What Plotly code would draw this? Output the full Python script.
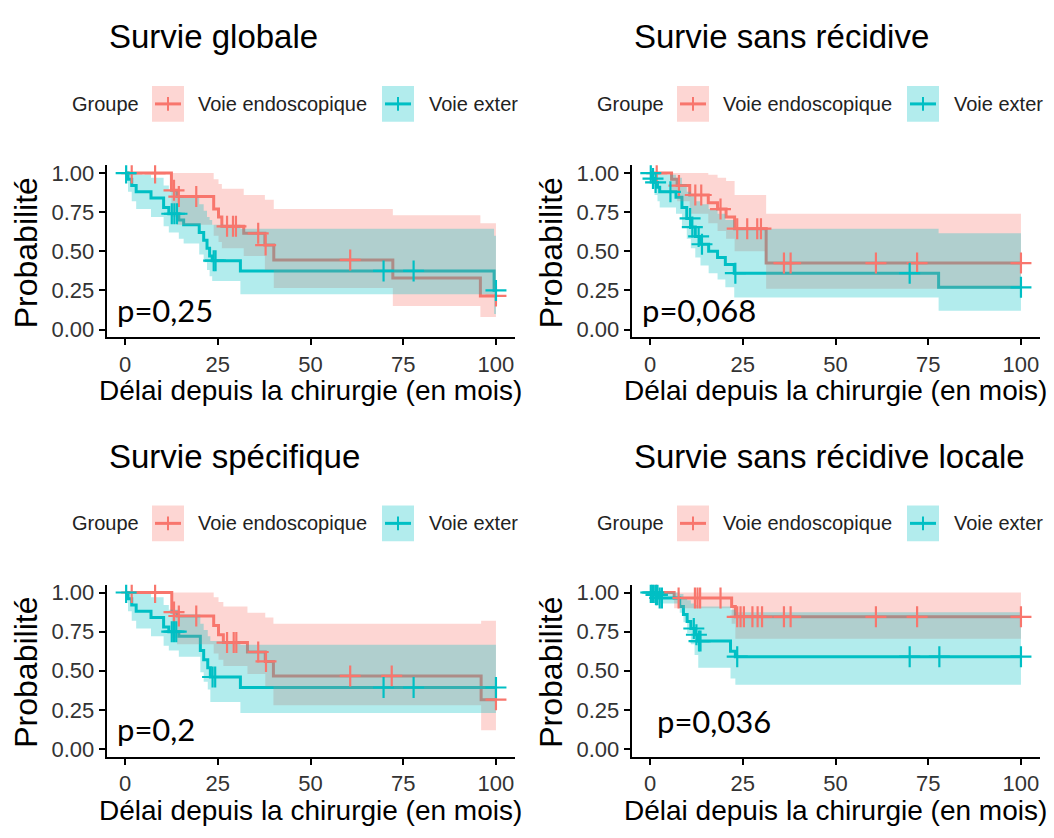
import plotly.graph_objects as go

RED = "#F8766D"
CYAN = "#00BFC4"
RED_FILL = "rgba(248,118,109,0.3)"
CYAN_FILL = "rgba(0,191,196,0.3)"
FONT = "Liberation Sans"

titles = ["Survie globale", "Survie sans récidive", "Survie spécifique", "Survie sans récidive locale"]
pvals = ["p=0,25", "p=0,068", "p=0,2", "p=0,036"]
group_title = "Groupe"
group_names = ["Voie endoscopique", "Voie exter"]
x_title = "Délai depuis la chirurgie (en mois)"
y_title = "Probabilité"
x_ticks = [0, 25, 50, 75, 100]
y_ticks = [0, 0.25, 0.5, 0.75, 1.0]
y_ticklabels = ["0.00", "0.25", "0.50", "0.75", "1.00"]
t_end = 100

# ---- Panel 1 : Survie globale ----
p1_red_t = [0, 12.5, 14.0, 23.9, 25.2, 26.1, 32.0, 37.7, 40.1, 72.2, 95.8]
p1_red_s = [1.0, 0.89, 0.85, 0.77, 0.72, 0.66, 0.615, 0.54, 0.445, 0.33, 0.215]
p1_red_lo = [1.0, 0.72, 0.67, 0.60, 0.56, 0.52, 0.47, 0.38, 0.265, 0.15, 0.08]
p1_red_hi = [1.0, 1.0, 1.0, 0.96, 0.93, 0.90, 0.86, 0.83, 0.77, 0.73, 0.68]
p1_red_cens = [1.8, 8.1, 13.2, 14.5, 19.2, 27.5, 29.1, 29.9, 35.9, 37.9, 60.7, 100]
p1_cy_t = [0, 0.8, 1.8, 3.0, 7.0, 10.4, 11.8, 14.5, 15.8, 20.0, 21.2, 22.1, 22.8, 23.5, 31.1, 99.5]
p1_cy_s = [1.0, 0.96, 0.92, 0.88, 0.84, 0.78, 0.74, 0.70, 0.67, 0.62, 0.57, 0.52, 0.47, 0.44, 0.375, 0.25]
p1_cy_hi = [1.0, 1.0, 1.0, 0.99, 0.97, 0.92, 0.89, 0.85, 0.84, 0.80, 0.76, 0.72, 0.70, 0.67, 0.645, 0.60]
p1_cy_lo = [1.0, 0.88, 0.82, 0.77, 0.72, 0.66, 0.62, 0.58, 0.55, 0.48, 0.43, 0.38, 0.34, 0.31, 0.225, 0.10]
p1_cy_cens = [0.3, 12.6, 13.3, 14.0, 23.9, 24.4, 69.7, 77.8, 100]

# ---- Panel 2 : Survie sans récidive ----
p2_red_t = [0, 5.8, 7.3, 10.7, 15.7, 18.2, 20.5, 22.8, 31.3]
p2_red_s = [1.0, 0.96, 0.92, 0.86, 0.81, 0.77, 0.72, 0.645, 0.425]
p2_red_hi = [1.0, 1.0, 1.0, 1.0, 0.99, 0.97, 0.95, 0.86, 0.74]
p2_red_lo = [1.0, 0.88, 0.82, 0.74, 0.68, 0.63, 0.58, 0.50, 0.26]
p2_red_cens = [1.8, 7.8, 12.2, 13.8, 19.0, 23.5, 26.2, 28.9, 29.9, 36.1, 37.9, 60.9, 72.0, 100]
p2_cy_t = [0, 0.5, 1.2, 2.0, 2.6, 7.0, 8.6, 9.9, 11.0, 12.2, 13.6, 15.8, 18.2, 20.3, 22.7, 77.8]
p2_cy_s = [1.0, 0.965, 0.94, 0.91, 0.88, 0.845, 0.78, 0.71, 0.655, 0.595, 0.545, 0.50, 0.46, 0.415, 0.36, 0.27]
p2_cy_hi = [1.0, 1.0, 1.0, 1.0, 0.99, 0.97, 0.93, 0.88, 0.85, 0.82, 0.80, 0.77, 0.74, 0.70, 0.645, 0.615]
p2_cy_lo = [1.0, 0.90, 0.86, 0.82, 0.78, 0.74, 0.66, 0.58, 0.52, 0.46, 0.41, 0.36, 0.32, 0.27, 0.205, 0.12]
p2_cy_cens = [0.2, 0.8, 1.5, 5.5, 10.8, 11.4, 13.1, 14.0, 23.0, 70.0, 100]

# ---- Panel 3 : Survie spécifique ----
p3_red_t = [0, 12.6, 14.0, 23.9, 25.2, 26.5, 33.0, 37.8, 40.0, 96.0]
p3_red_s = [1.0, 0.875, 0.85, 0.79, 0.73, 0.68, 0.62, 0.56, 0.467, 0.315]
p3_red_hi = [1.0, 1.0, 1.0, 0.97, 0.94, 0.91, 0.87, 0.84, 0.80, 0.82]
p3_red_lo = [1.0, 0.71, 0.67, 0.61, 0.57, 0.53, 0.48, 0.40, 0.28, 0.12]
p3_red_cens = [1.8, 8.1, 13.2, 14.5, 19.2, 27.5, 29.3, 30.0, 35.9, 38.0, 60.7, 71.9, 100]
p3_cy_t = [0, 0.8, 1.8, 3.0, 7.0, 10.4, 11.8, 14.5, 20.3, 21.2, 22.3, 23.0, 31.1]
p3_cy_s = [1.0, 0.96, 0.92, 0.88, 0.84, 0.78, 0.75, 0.72, 0.63, 0.57, 0.52, 0.46, 0.393]
p3_cy_hi = [1.0, 1.0, 1.0, 0.99, 0.97, 0.92, 0.89, 0.86, 0.80, 0.76, 0.72, 0.69, 0.667]
p3_cy_lo = [1.0, 0.88, 0.82, 0.77, 0.72, 0.66, 0.63, 0.59, 0.49, 0.43, 0.38, 0.30, 0.23]
p3_cy_cens = [0.3, 12.6, 13.2, 13.8, 23.6, 24.3, 69.7, 77.8, 100]

# ---- Panel 4 : Survie sans récidive locale ----
p4_red_t = [0, 6.5, 22.0, 23.0]
p4_red_s = [1.0, 0.965, 0.91, 0.845]
p4_red_hi = [1.0, 1.0, 1.0, 1.0]
p4_red_lo = [1.0, 0.90, 0.80, 0.705]
p4_red_cens = [1.7, 7.7, 12.1, 12.8, 13.5, 19.0, 23.5, 24.4, 25.3, 27.6, 29.0, 30.2, 36.1, 37.9, 60.9, 72.0, 100]
p4_cy_t = [0, 1.2, 2.5, 8.0, 9.0, 10.0, 11.0, 12.0, 13.0, 21.7, 23.0]
p4_cy_s = [1.0, 0.985, 0.965, 0.91, 0.86, 0.815, 0.77, 0.73, 0.69, 0.625, 0.59]
p4_cy_hi = [1.0, 1.0, 1.0, 0.99, 0.97, 0.95, 0.93, 0.92, 0.91, 0.89, 0.874]
p4_cy_lo = [1.0, 0.96, 0.93, 0.87, 0.81, 0.74, 0.67, 0.60, 0.52, 0.45, 0.41]
p4_cy_cens = [0.2, 0.6, 1.0, 1.6, 2.0, 2.6, 3.2, 11.8, 12.5, 13.2, 13.6, 23.5, 70.0, 78.0, 100]

panels = [
    dict(red=(p1_red_t, p1_red_s, p1_red_lo, p1_red_hi, p1_red_cens),
         cy=(p1_cy_t, p1_cy_s, p1_cy_lo, p1_cy_hi, p1_cy_cens), dx=0, dy=0, pdx=0, pdy=0),
    dict(red=(p2_red_t, p2_red_s, p2_red_lo, p2_red_hi, p2_red_cens),
         cy=(p2_cy_t, p2_cy_s, p2_cy_lo, p2_cy_hi, p2_cy_cens), dx=525, dy=0, pdx=0, pdy=0),
    dict(red=(p3_red_t, p3_red_s, p3_red_lo, p3_red_hi, p3_red_cens),
         cy=(p3_cy_t, p3_cy_s, p3_cy_lo, p3_cy_hi, p3_cy_cens), dx=0, dy=424, pdx=0, pdy=0),
    dict(red=(p4_red_t, p4_red_s, p4_red_lo, p4_red_hi, p4_red_cens),
         cy=(p4_cy_t, p4_cy_s, p4_cy_lo, p4_cy_hi, p4_cy_cens), dx=525, dy=424, pdx=15, pdy=-8),
]

W, H = 1054, 838


def px_x(v):
    return v / W


def px_y(v):
    return 1 - v / H


def step_xy(t, v, end):
    xs, ys = [], []
    for i in range(len(t)):
        x1 = t[i + 1] if i + 1 < len(t) else end
        xs += [t[i], x1]
        ys += [v[i], v[i]]
    return xs, ys


def value_at(t, v, c):
    val = v[0]
    for ti, vi in zip(t, v):
        if ti <= c:
            val = vi
    return val


fig = go.Figure()
layout = dict(width=W, height=H, margin=dict(l=0, r=0, t=0, b=0),
              paper_bgcolor="white", plot_bgcolor="white", showlegend=False,
              annotations=[], shapes=[])

for k, p in enumerate(panels):
    n = k + 1
    xa = "x" if n == 1 else f"x{n}"
    ya = "y" if n == 1 else f"y{n}"
    dx, dy = p["dx"], p["dy"]
    # plot area in pixels
    x0, x1 = 106.5 + dx, 514.5 + dx
    y0, y1 = 163 + dy, 337 + dy
    axis_common = dict(showline=True, linecolor="black", linewidth=1.6, ticks="outside",
                       ticklen=6, tickwidth=1.6, tickcolor="black", showgrid=False,
                       zeroline=False, tickfont=dict(family=FONT, size=22, color="#333333"))
    layout["xaxis" if n == 1 else f"xaxis{n}"] = dict(
        domain=[px_x(x0), px_x(x1)], range=[-5, 105], tickvals=x_ticks,
        anchor=ya, **axis_common)
    layout["yaxis" if n == 1 else f"yaxis{n}"] = dict(
        domain=[px_y(y1), px_y(y0)], range=[-0.05, 1.05], tickvals=y_ticks,
        ticktext=y_ticklabels, anchor=xa, **axis_common)

    groups = [(p["red"], RED, RED_FILL), (p["cy"], CYAN, CYAN_FILL)]
    # step lines
    for (t, s, lo, hi, cens), col, fillc in groups:
        xs, ys = step_xy(t, s, t_end)
        fig.add_trace(go.Scatter(x=xs, y=ys, mode="lines", line=dict(color=col, width=3),
                                 xaxis=xa, yaxis=ya, hoverinfo="skip"))
    # confidence bands
    for (t, s, lo, hi, cens), col, fillc in groups:
        ux, uy = step_xy(t, hi, t_end)
        lx, ly = step_xy(t, lo, t_end)
        fig.add_trace(go.Scatter(x=ux + lx[::-1], y=uy + ly[::-1], mode="lines",
                                 fill="toself", fillcolor=fillc, line=dict(width=0),
                                 xaxis=xa, yaxis=ya, hoverinfo="skip"))
    # censor marks
    for (t, s, lo, hi, cens), col, fillc in groups:
        cy = [value_at(t, s, c) for c in cens]
        fig.add_trace(go.Scatter(x=cens, y=cy, mode="markers",
                                 marker=dict(symbol="cross-thin", size=15,
                                             line=dict(color=col, width=2.2)),
                                 xaxis=xa, yaxis=ya, hoverinfo="skip"))

    A = layout["annotations"]
    S = layout["shapes"]
    # title
    A.append(dict(text=titles[k], x=px_x(107 + dx), y=px_y(33 + dy), xref="paper", yref="paper",
                  xanchor="left", yanchor="middle", showarrow=False,
                  font=dict(family=FONT, size=33, color="black")))
    # legend
    ly_c = 101 + dy
    A.append(dict(text=group_title, x=px_x(70 + dx), y=px_y(ly_c), xref="paper", yref="paper",
                  xanchor="left", yanchor="middle", showarrow=False,
                  font=dict(family=FONT, size=20, color="#222222")))
    for (sx, tx, name, col, fillc) in [(152, 196, group_names[0], RED, RED_FILL),
                                       (382, 427, group_names[1], CYAN, CYAN_FILL)]:
        S.append(dict(type="rect", xref="paper", yref="paper",
                      x0=px_x(sx + dx), x1=px_x(sx + 32 + dx),
                      y0=px_y(ly_c + 18), y1=px_y(ly_c - 18),
                      fillcolor=fillc, line=dict(width=0), layer="below"))
        S.append(dict(type="line", xref="paper", yref="paper",
                      x0=px_x(sx + 3 + dx), x1=px_x(sx + 29 + dx),
                      y0=px_y(ly_c), y1=px_y(ly_c), line=dict(color=col, width=3)))
        S.append(dict(type="line", xref="paper", yref="paper",
                      x0=px_x(sx + 16 + dx), x1=px_x(sx + 16 + dx),
                      y0=px_y(ly_c - 7), y1=px_y(ly_c + 7), line=dict(color=col, width=2)))
        A.append(dict(text=name, x=px_x(tx + dx), y=px_y(ly_c), xref="paper", yref="paper",
                      xanchor="left", yanchor="middle", showarrow=False,
                      font=dict(family=FONT, size=20, color="#222222")))
    # axis titles
    A.append(dict(text=y_title, x=px_x(26 + dx), y=px_y(252 + dy), xref="paper", yref="paper",
                  xanchor="center", yanchor="middle", textangle=-90, showarrow=False,
                  font=dict(family=FONT, size=32, color="black")))
    A.append(dict(text=x_title, x=px_x(310 + dx), y=px_y(391 + dy), xref="paper", yref="paper",
                  xanchor="center", yanchor="middle", showarrow=False,
                  font=dict(family=FONT, size=28, color="black")))
    # p-value
    A.append(dict(text=pvals[k], x=px_x(115 + dx + p["pdx"]), y=px_y(309 + dy + p["pdy"]),
                  xref="paper", yref="paper", xanchor="left", yanchor="middle", showarrow=False,
                  font=dict(family="Lato", size=31, color="black")))

fig.update_layout(**layout)
fig.write_html("out.html", config={"displayModeBar": False},
               post_script="document.body.style.margin='0px';document.body.style.padding='0px';")
